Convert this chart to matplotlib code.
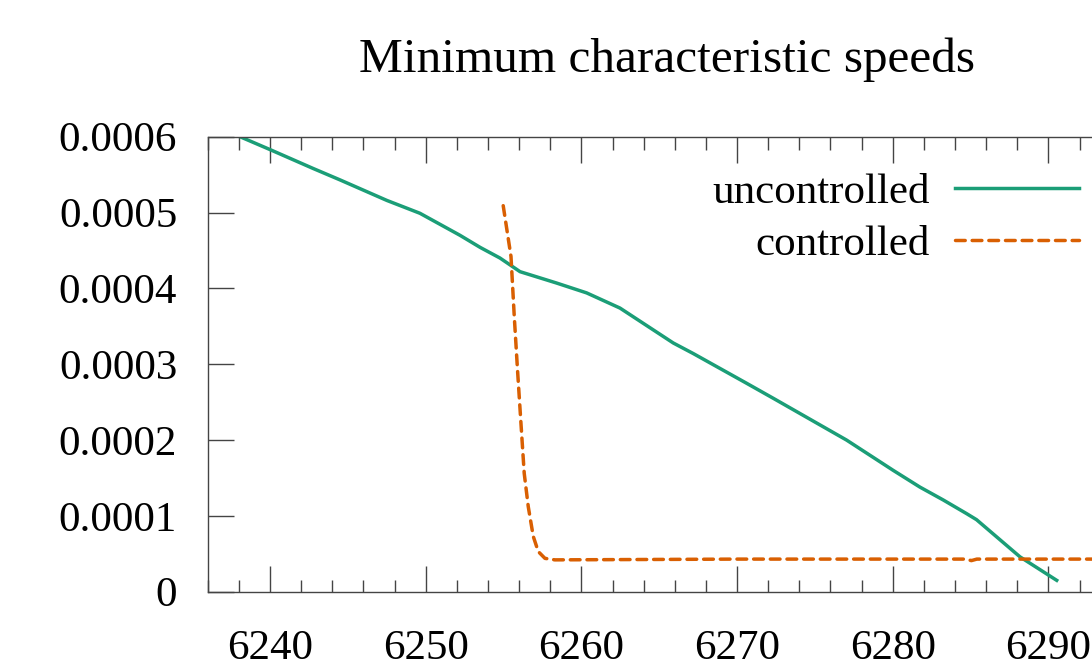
import matplotlib
matplotlib.use("Agg")
import matplotlib.pyplot as plt
from matplotlib.ticker import MultipleLocator, FuncFormatter

# values (y in units of 1e-4)
unc_x = [6238.07, 6240.0, 6242.78, 6244.5, 6247.5, 6249.63, 6252.2, 6253.5,
         6254.77, 6256.06, 6258.41, 6260.34, 6262.48, 6265.9, 6267.19, 6270.6,
         6272.33, 6275.32, 6277.03, 6280.03, 6281.74, 6283.24, 6284.74,
         6285.38, 6288.17, 6290.53]
unc_y = [6.00, 5.83, 5.58, 5.43, 5.16, 4.99, 4.70, 4.54, 4.40, 4.22, 4.07,
         3.94, 3.74, 3.28, 3.14, 2.75, 2.55, 2.20, 2.00, 1.60, 1.38, 1.21,
         1.03, 0.95, 0.46, 0.15]

ctrl_x = [6254.98, 6255.48, 6255.69, 6255.9, 6256.12, 6256.33, 6256.59,
          6256.91, 6257.23, 6257.66, 6258.3, 6270.0, 6284.7, 6285.05, 6285.4,
          6300.0]
ctrl_y = [5.09, 4.42, 3.63, 2.92, 2.22, 1.56, 1.12, 0.73, 0.53, 0.44, 0.42,
          0.43, 0.43, 0.41, 0.43, 0.43]

labels = ["uncontrolled", "controlled"]

plt.rcParams["font.family"] = ["Liberation Serif", "DejaVu Serif"]
plt.rcParams["font.size"] = 31

fig = plt.figure(figsize=(10.92, 6.59), dpi=100)
ax = fig.add_axes([0.1902, 0.1021, 0.9125, 0.6905])

ax.plot(unc_x, [v * 1e-4 for v in unc_y], color="#1b9e77", lw=2.5,
        label=labels[0])
ax.plot(ctrl_x, [v * 1e-4 for v in ctrl_y], color="#d95f02", lw=2.5,
        linestyle=(0, (2.8, 2.0)), dash_capstyle="round", label=labels[1])

ax.set_xlim(6236, 6300)
ax.set_ylim(0, 0.0006)
ax.xaxis.set_major_locator(MultipleLocator(10))
ax.xaxis.set_minor_locator(MultipleLocator(2))
ax.yaxis.set_major_locator(MultipleLocator(0.0001))
ax.yaxis.set_major_formatter(FuncFormatter(lambda v, p: "0" if abs(v) < 1e-9 else f"{v:.4f}"))

for s in ax.spines.values():
    s.set_color("#444444")
    s.set_linewidth(1.0)
ax.tick_params(which="both", direction="in", top=True, right=True,
               color="#444444", width=1.0)
ax.tick_params(which="major", length=18.5)
ax.tick_params(which="minor", length=9)
ax.tick_params(axis="x", which="major", pad=27)
ax.tick_params(axis="y", which="major", pad=22)

fig.text(0.611, 0.8907, "Minimum characteristic speeds", ha="center",
         va="baseline", fontsize=35.5)

ax.legend(loc="upper right", bbox_to_anchor=(1079 / 1092, 1 - 173 / 659),
          bbox_transform=fig.transFigure, frameon=False, markerfirst=False,
          handlelength=2.88, handletextpad=0.58, labelspacing=0.29,
          borderpad=0, borderaxespad=0)

fig.savefig("out.png", dpi=100)
